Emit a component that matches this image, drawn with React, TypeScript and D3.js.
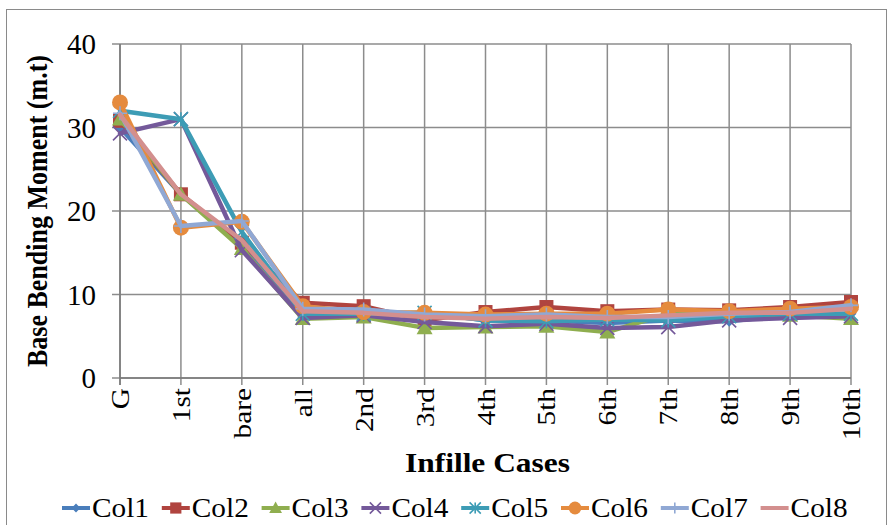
import React from "react";
import * as d3 from "d3";

const categories = ["G", "1st", "bare", "all", "2nd", "3rd", "4th", "5th", "6th", "7th", "8th", "9th", "10th"];
const col1 = [30.0, 22.0, 15.8, 7.3, 7.6, 7.8, 6.9, 6.9, 6.6, 6.9, 6.8, 7.6, 7.7];
const col2 = [30.8, 22.0, 16.2, 9.0, 8.6, 6.9, 7.9, 8.5, 8.0, 8.2, 8.1, 8.5, 9.1];
const col3 = [31.0, 22.0, 15.5, 7.1, 7.3, 6.0, 6.1, 6.2, 5.5, 7.7, 7.6, 7.5, 7.1];
const col4 = [29.3, 31.0, 15.3, 7.2, 7.5, 6.7, 6.2, 6.5, 6.0, 6.1, 6.9, 7.2, 7.4];
const col5 = [32.0, 31.0, 17.5, 7.7, 7.7, 7.8, 6.9, 6.8, 7.0, 6.9, 7.4, 7.7, 7.7];
const col6 = [33.0, 18.0, 18.7, 8.6, 7.9, 7.8, 7.6, 7.7, 7.7, 8.2, 8.0, 8.3, 8.5];
const col7 = [31.7, 18.2, 18.8, 8.3, 8.2, 7.6, 7.4, 7.6, 7.3, 7.3, 7.7, 7.9, 8.7];
const col8 = [31.5, 22.0, 16.5, 8.0, 7.8, 7.3, 7.1, 7.3, 7.2, 7.5, 7.8, 7.8, 8.3];
const seriesNames = ["Col1", "Col2", "Col3", "Col4", "Col5", "Col6", "Col7", "Col8"];
const yTicks = [0, 10, 20, 30, 40];

const seriesValues = [col1, col2, col3, col4, col5, col6, col7, col8];
const colors = ["#4a7ebb", "#b0443f", "#8fae4f", "#74599a", "#3d9cb5", "#e58b3e", "#90a8d4", "#d38f8e"];
const markers = ["diamond", "square", "triangle", "x", "star", "circle", "plus", "none"];

const FONT = '"Liberation Serif", "Times New Roman", Times, serif';
const tStyle = { fontFamily: FONT };

function Marker({ type, x, y, color, s = 1 }: { type: string; x: number; y: number; color: string; s?: number }) {
  switch (type) {
    case "diamond": {
      const r = 5.5 * s;
      return <path d={`M${x},${y - r}L${x + r},${y}L${x},${y + r}L${x - r},${y}Z`} fill={color} />;
    }
    case "square": {
      const r = 7 * s;
      return <rect x={x - r} y={y - r} width={2 * r} height={2 * r} fill={color} />;
    }
    case "triangle": {
      const r = 8 * s;
      return <path d={`M${x},${y - r}L${x + r},${y + r * 0.8}L${x - r},${y + r * 0.8}Z`} fill={color} />;
    }
    case "x": {
      const r = 7 * s;
      return (
        <path d={`M${x - r},${y - r}L${x + r},${y + r}M${x - r},${y + r}L${x + r},${y - r}`} stroke={color} strokeWidth={1.6} />
      );
    }
    case "star": {
      const r = 7 * s;
      return (
        <path
          d={`M${x - r},${y - r}L${x + r},${y + r}M${x - r},${y + r}L${x + r},${y - r}M${x},${y - r}L${x},${y + r}`}
          stroke={color}
          strokeWidth={1.6}
        />
      );
    }
    case "circle":
      return <circle cx={x} cy={y} r={8 * s} fill={color} />;
    case "plus": {
      const r = 7 * s;
      return <path d={`M${x - r},${y}L${x + r},${y}M${x},${y - r}L${x},${y + r}`} stroke={color} strokeWidth={1.6} />;
    }
    default:
      return null;
  }
}

export default function App() {
  const W = 891;
  const H = 525;
  const left = 120;
  const right = 851;
  const top = 44;
  const bottom = 378;

  const x = d3.scalePoint<string>().domain(categories).range([left, right]);
  const y = d3.scaleLinear().domain([0, 40]).range([bottom, top]);

  const line = d3
    .line<number>()
    .x((_, i) => x(categories[i]) as number)
    .y((d) => y(d));

  const legendStart = 62;
  const legendStep = 99.8;

  return (
    <svg width={W} height={H} style={{ position: "absolute", left: 0, top: 0, background: "#fff" }}>
      <rect x={6.5} y={9.5} width={880} height={540} fill="#fff" stroke="#8a8a8a" strokeWidth={1} />

      {yTicks.map((t) => (
        <line key={"h" + t} x1={left - 8} x2={right} y1={y(t)} y2={y(t)} stroke="#8c8c8c" strokeWidth={1.5} />
      ))}
      {categories.map((c) => (
        <line key={"v" + c} x1={x(c)} x2={x(c)} y1={top} y2={bottom + 7} stroke="#8c8c8c" strokeWidth={1.5} />
      ))}
      <line x1={left} x2={left} y1={top} y2={bottom + 7} stroke="#7a7a7a" strokeWidth={1.5} />
      <line x1={left} x2={right} y1={bottom} y2={bottom} stroke="#7a7a7a" strokeWidth={1.5} />

      {yTicks.map((t) => (
        <text key={"yl" + t} x={96} y={y(t) + 10} textAnchor="end" fontSize={29} fill="#000" style={tStyle}>
          {t}
        </text>
      ))}

      {categories.map((c) => (
        <text
          key={"xl" + c}
          transform={`translate(${(x(c) as number) + 9},${bottom + 10}) rotate(-90) scale(1.13,1)`}
          textAnchor="end"
          fontSize={26}
          fill="#000"
          style={tStyle}
        >
          {c}
        </text>
      ))}

      <text
        transform={`translate(47,211) rotate(-90)`}
        textAnchor="middle"
        fontSize={29}
        fontWeight="bold"
        textLength={312}
        lengthAdjust="spacingAndGlyphs"
        fill="#000"
        style={tStyle}
      >
        Base Bending Moment (m.t)
      </text>
      <text
        x={487.5}
        y={472}
        textAnchor="middle"
        fontSize={27}
        fontWeight="bold"
        textLength={165}
        lengthAdjust="spacingAndGlyphs"
        fill="#000"
        style={tStyle}
      >
        Infille Cases
      </text>

      {seriesValues.map((vals, si) => (
        <g key={"s" + si}>
          <path
            d={line(vals) || ""}
            fill="none"
            stroke={colors[si]}
            strokeWidth={4.5}
            strokeLinejoin="round"
            strokeLinecap="round"
          />
          {vals.map((v, i) => (
            <Marker key={i} type={markers[si]} x={x(categories[i]) as number} y={y(v)} color={colors[si]} />
          ))}
        </g>
      ))}

      {seriesNames.map((n, i) => {
        const lx = legendStart + i * legendStep;
        const ly = 508;
        return (
          <g key={"lg" + i}>
            <line x1={lx} x2={lx + 28} y1={ly} y2={ly} stroke={colors[i]} strokeWidth={4} />
            <Marker type={markers[i]} x={lx + 14} y={ly} color={colors[i]} s={0.8} />
            <text
              x={lx + 30}
              y={ly + 9}
              fontSize={27}
              textLength={57}
              lengthAdjust="spacingAndGlyphs"
              fill="#000"
              style={tStyle}
            >
              {n}
            </text>
          </g>
        );
      })}
    </svg>
  );
}
